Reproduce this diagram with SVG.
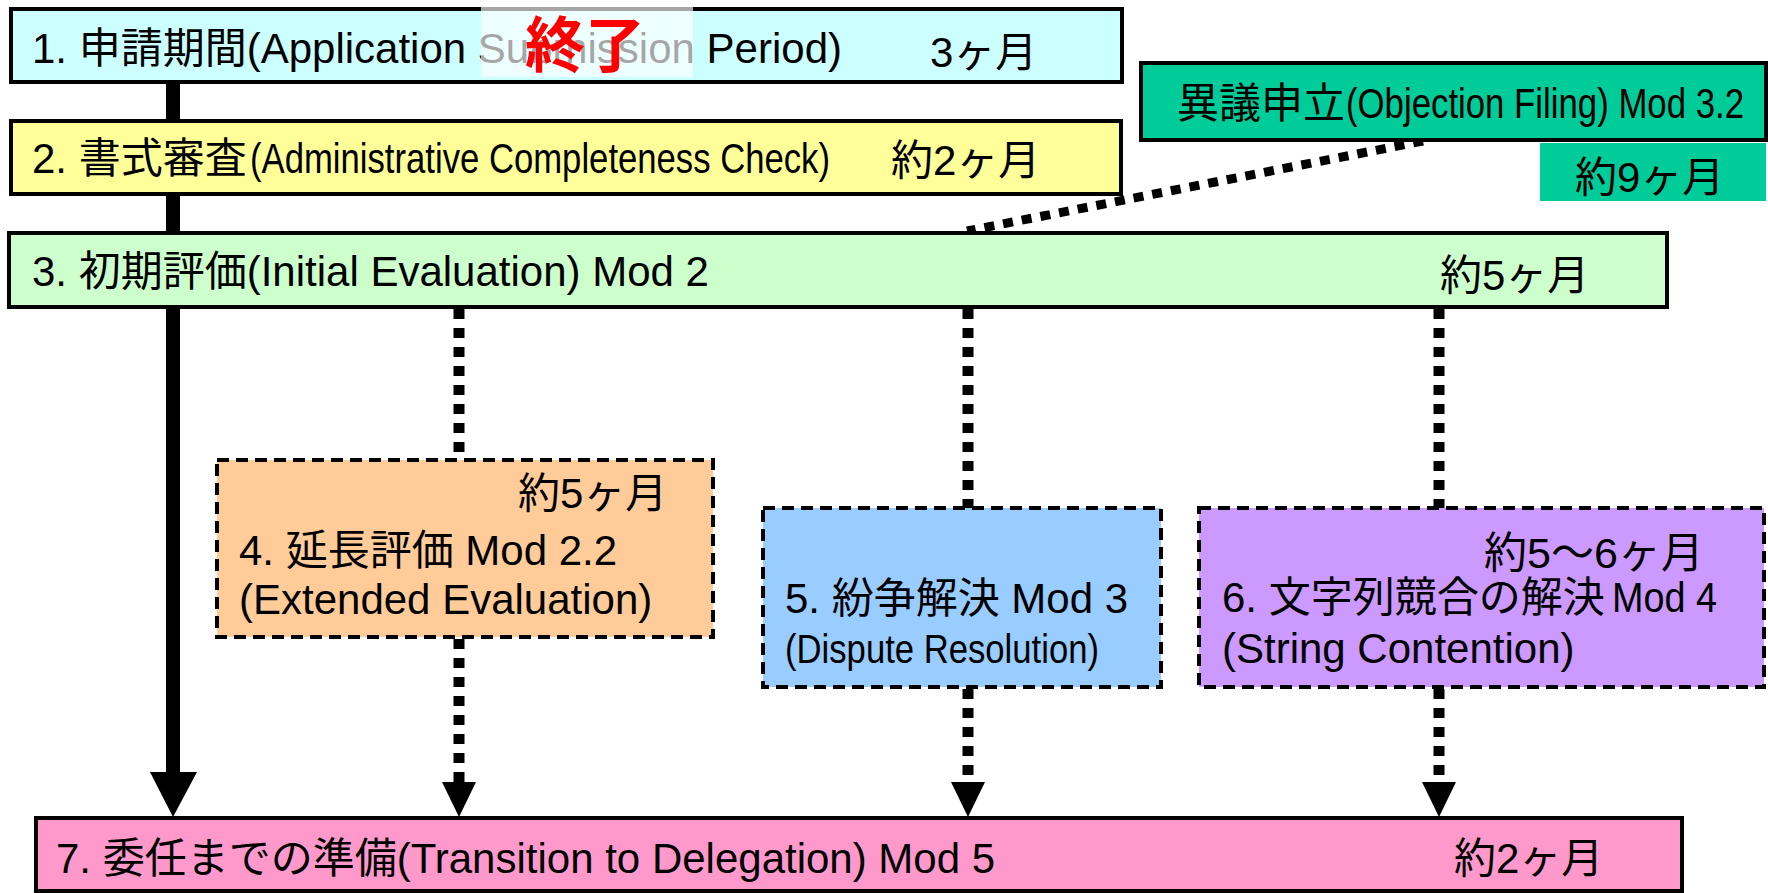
<svg xmlns="http://www.w3.org/2000/svg" width="1768" height="893" viewBox="0 0 1768 893">
<style>
.t{font-family:"Liberation Sans","Noto Sans CJK JP",sans-serif;font-size:42px;fill:#000}
.box{stroke:#000;stroke-width:4}
.dbox{stroke:#000;stroke-width:4;stroke-dasharray:12 7}
.dot{stroke:#000;stroke-width:11;stroke-dasharray:10 9;fill:none}
</style>
<rect width="1768" height="893" fill="#fff"/>
<g id="connectors">
<line x1="173" y1="82" x2="173" y2="776" stroke="#000" stroke-width="14"/>
<polygon points="150,772 197,772 173,817" fill="#000"/>
<line class="dot" x1="1423" y1="141" x2="967" y2="231" style="stroke-width:9"/>
<line class="dot" x1="459" y1="309" x2="459" y2="460"/>
<line class="dot" x1="459" y1="639" x2="459" y2="784"/>
<polygon points="442,782 476,782 459,817" fill="#000"/>
<line class="dot" x1="968" y1="309" x2="968" y2="508"/>
<line class="dot" x1="968" y1="689" x2="968" y2="784"/>
<polygon points="951,782 985,782 968,817" fill="#000"/>
<line class="dot" x1="1439" y1="309" x2="1439" y2="508"/>
<line class="dot" x1="1439" y1="689" x2="1439" y2="784"/>
<polygon points="1422,782 1456,782 1439,817" fill="#000"/>
</g>
<g id="node1">
<rect class="box" x="11" y="9" width="1111" height="73" fill="#CCFFFF"/>
<text class="t" x="32" y="63">1. 申請期間(Application Submission Period)</text>
<text class="t" x="930" y="67">3ヶ月</text>
<rect x="481" y="7" width="212" height="70" fill="#fff" fill-opacity="0.65"/>
<text x="525" y="67" style="font-family:'Liberation Sans','Noto Sans CJK JP',sans-serif;font-size:60px;font-weight:bold;fill:#FF0000">終了</text>
</g>
<g id="node2">
<rect class="box" x="11" y="121" width="1110" height="73" fill="#FFFF99"/>
<text class="t" x="32" y="173">2. 書式審査</text>
<text class="t" x="250" y="173" textLength="580" lengthAdjust="spacingAndGlyphs">(Administrative Completeness Check)</text>
<text class="t" x="891" y="175">約2ヶ月</text>
</g>
<g id="node3">
<rect class="box" x="9" y="233" width="1658" height="74" fill="#CCFFCC"/>
<text class="t" x="32" y="286">3. 初期評価(Initial Evaluation) Mod 2</text>
<text class="t" x="1440" y="290">約5ヶ月</text>
</g>
<g id="objection">
<rect class="box" x="1141" y="63" width="625" height="77" fill="#00CC99"/>
<text class="t" x="1177" y="118">異議申立</text>
<text class="t" x="1346" y="118" textLength="398" lengthAdjust="spacingAndGlyphs">(Objection Filing) Mod 3.2</text>
<rect x="1540" y="143" width="226" height="58" fill="#00CC99"/>
<text class="t" x="1575" y="192">約9ヶ月</text>
</g>
<g id="node4">
<rect class="dbox" x="217" y="460" width="496" height="177" fill="#FFCC99"/>
<text class="t" x="518" y="508">約5ヶ月</text>
<text class="t" x="239" y="565">4. 延長評価 Mod 2.2</text>
<text class="t" x="239" y="614">(Extended Evaluation)</text>
</g>
<g id="node5">
<rect class="dbox" x="763" y="508" width="398" height="179" fill="#99CCFF"/>
<text class="t" x="785" y="613">5. 紛争解決 Mod 3</text>
<text class="t" x="785" y="663" style="font-size:40px" textLength="314" lengthAdjust="spacingAndGlyphs">(Dispute Resolution)</text>
</g>
<g id="node6">
<rect class="dbox" x="1199" y="508" width="565" height="179" fill="#CC99FF"/>
<text class="t" x="1484" y="568" style="font-size:43px">約5～6ヶ月</text>
<text class="t" x="1222" y="612">6. 文字列競合の解決</text>
<text class="t" x="1612" y="612" textLength="105" lengthAdjust="spacingAndGlyphs">Mod 4</text>
<text class="t" x="1222" y="663">(String Contention)</text>
</g>
<g id="node7">
<rect class="box" x="36" y="818" width="1646" height="73" fill="#FF99CC"/>
<text class="t" x="56" y="873">7. 委任までの準備(Transition to Delegation) Mod 5</text>
<text class="t" x="1454" y="873">約2ヶ月</text>
</g>
</svg>
